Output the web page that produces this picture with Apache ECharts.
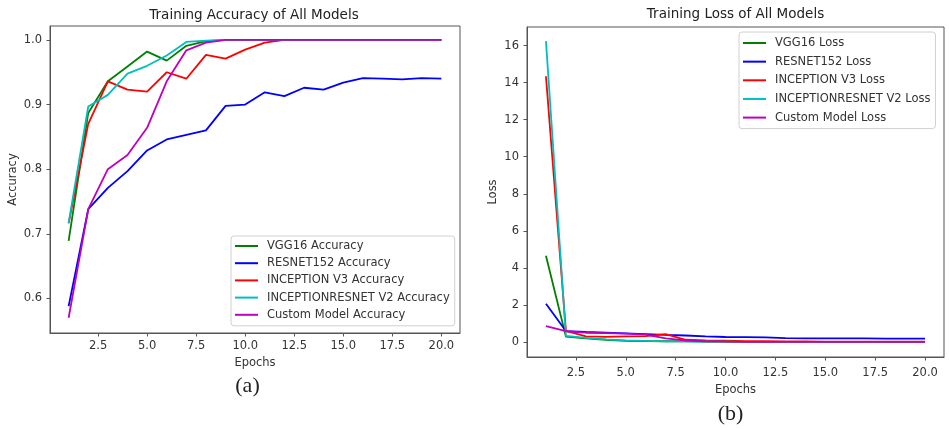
<!DOCTYPE html>
<html>
<head>
<meta charset="utf-8">
<script src="https://cdn.jsdelivr.net/npm/echarts@6/dist/echarts.min.js"></script>
<style>
	html, body {margin: 0; padding: 0; background: #fff;}
	#container {width: 949px; height: 430px;}
</style>
</head>
<body>
<div id="container"></div>
<script>
const Epochs = [1, 2, 3, 4, 5, 6, 7, 8, 9, 10, 11, 12, 13, 14, 15, 16, 17, 18, 19, 20];
const XTicks = [2.5, 5, 7.5, 10, 12.5, 15, 17.5, 20];
const AccTicks = [0.6, 0.7, 0.8, 0.9, 1.0];
const LossTicks = [0, 2, 4, 6, 8, 10, 12, 14, 16];

const AccNames = ['VGG16 Accuracy', 'RESNET152 Accuracy', 'INCEPTION V3 Accuracy', 'INCEPTIONRESNET V2 Accuracy', 'Custom Model Accuracy'];
const LossNames = ['VGG16 Loss', 'RESNET152 Loss', 'INCEPTION V3 Loss', 'INCEPTIONRESNET V2 Loss', 'Custom Model Loss'];
const Colors = ['#008000', '#0000ff', '#ff0000', '#00bfbf', '#bf00bf'];

// accuracy per epoch
const VggAcc = [0.689, 0.887, 0.936, 0.959, 0.982, 0.968, 0.991, 0.998, 1.0, 1.0, 1.0, 1.0, 1.0, 1.0, 1.0, 1.0, 1.0, 1.0, 1.0, 1.0];
const ResnetAcc = [0.588, 0.738, 0.771, 0.797, 0.829, 0.846, 0.853, 0.860, 0.898, 0.900, 0.919, 0.913, 0.926, 0.923, 0.934, 0.941, 0.940, 0.939, 0.941, 0.940];
const InceptionAcc = [0.716, 0.870, 0.936, 0.923, 0.920, 0.950, 0.940, 0.977, 0.971, 0.985, 0.996, 1.0, 1.0, 1.0, 1.0, 1.0, 1.0, 1.0, 1.0, 1.0];
const IrnAcc = [0.717, 0.897, 0.915, 0.948, 0.960, 0.976, 0.997, 0.999, 1.0, 1.0, 1.0, 1.0, 1.0, 1.0, 1.0, 1.0, 1.0, 1.0, 1.0, 1.0];
const CustomAcc = [0.570, 0.738, 0.800, 0.822, 0.864, 0.936, 0.984, 0.996, 1.0, 1.0, 1.0, 1.0, 1.0, 1.0, 1.0, 1.0, 1.0, 1.0, 1.0, 1.0];

// loss per epoch
const VggLoss = [4.65, 0.29, 0.19, 0.12, 0.06, 0.05, 0.04, 0.03, 0.02, 0.02, 0.01, 0.01, 0.01, 0.01, 0.01, 0.01, 0.01, 0.01, 0.01, 0.01];
const ResnetLoss = [2.06, 0.59, 0.54, 0.50, 0.46, 0.42, 0.38, 0.35, 0.30, 0.27, 0.26, 0.25, 0.21, 0.20, 0.19, 0.19, 0.19, 0.18, 0.18, 0.18];
const InceptionLoss = [14.34, 0.60, 0.30, 0.28, 0.30, 0.32, 0.42, 0.12, 0.09, 0.07, 0.05, 0.04, 0.03, 0.03, 0.02, 0.02, 0.02, 0.02, 0.02, 0.02];
const IrnLoss = [16.24, 0.33, 0.22, 0.14, 0.09, 0.06, 0.04, 0.03, 0.02, 0.02, 0.01, 0.01, 0.01, 0.01, 0.01, 0.01, 0.01, 0.01, 0.01, 0.01];
const CustomLoss = [0.86, 0.58, 0.50, 0.48, 0.45, 0.40, 0.20, 0.08, 0.04, 0.02, 0.01, 0.01, 0.01, 0.01, 0.01, 0.01, 0.01, 0.01, 0.01, 0.01];

const Font = 'DejaVu Sans';
const TextColor = '#333';
const FrameColor = '#555';

function Pairs(values) {
	return Epochs.map((e, i) => [e, values[i]]);
}

function Axis(gridIndex, min, max, ticks, fmt, margin, name, nameGap) {
	return {
		type: 'value', gridIndex: gridIndex, min: min, max: max,
		name: name, nameLocation: 'middle', nameGap: nameGap,
		nameTextStyle: {fontFamily: Font, fontSize: 11.5, color: TextColor},
		splitLine: {show: false},
		axisLine: {show: true, onZero: false, lineStyle: {color: FrameColor, width: 1}},
		axisTick: {show: true, length: 3.5, customValues: ticks, lineStyle: {color: FrameColor, width: 1}},
		axisLabel: {
			customValues: ticks, margin: margin, fontFamily: Font, fontSize: 11.5, color: TextColor,
			formatter: fmt
		}
	};
}

function Series(names, list, xi, yi) {
	return names.map((n, i) => ({
		name: n, type: 'line', xAxisIndex: xi, yAxisIndex: yi,
		data: Pairs(list[i]), showSymbol: false, symbol: 'none',
		lineStyle: {width: 1.8, color: Colors[i]}, itemStyle: {color: Colors[i]},
		z: 2 + i
	}));
}

function Legend(names, left, top, gap, padding) {
	return {
		data: names, orient: 'vertical', left: left, top: top,
		icon: 'rect', itemWidth: 23, itemHeight: 2, itemGap: gap,
		padding: padding, backgroundColor: 'rgba(255,255,255,0.85)',
		borderColor: '#d0d0d0', borderWidth: 1, borderRadius: 3,
		selectedMode: false,
		textStyle: {fontFamily: Font, fontSize: 11.5, color: TextColor, lineHeight: 14, padding: [0, 0, 0, 4]}
	};
}

function Label(text, x, y, size, family) {
	return {
		type: 'text', x: x, y: y, silent: true,
		style: {
			text: text, fill: '#222', fontSize: size, fontFamily: family,
			align: 'center', verticalAlign: 'middle', textAlign: 'center', textVerticalAlign: 'middle'
		}
	};
}

const oneDec = v => v.toFixed(1);
const noDec = v => String(Math.round(v));

const option = {
	animation: false,
	backgroundColor: '#fff',
	grid: [
		{left: 50, top: 26, width: 410, height: 307, show: true, borderColor: FrameColor, borderWidth: 1, containLabel: false},
		{left: 527, top: 27, width: 417, height: 330, show: true, borderColor: FrameColor, borderWidth: 1, containLabel: false}
	],
	xAxis: [
		Axis(0, 0.05, 20.95, XTicks, oneDec, 7, 'Epochs', 23),
		Axis(1, 0.05, 20.95, XTicks, oneDec, 10, 'Epochs', 26)
	],
	yAxis: [
		Axis(0, 0.5464, 1.0216, AccTicks, oneDec, 8, 'Accuracy', 31),
		Axis(1, -0.81, 17.0, LossTicks, noDec, 8, 'Loss', 28)
	],
	legend: [
		Legend(AccNames, 231, 236, 3.2, [3, 5, 4, 4]),
		Legend(LossNames, 739, 32, 4.65, [4, 5, 4, 4])
	],
	series: [].concat(
		Series(AccNames, [VggAcc, ResnetAcc, InceptionAcc, IrnAcc, CustomAcc], 0, 0),
		Series(LossNames, [VggLoss, ResnetLoss, InceptionLoss, IrnLoss, CustomLoss], 1, 1)
	),
	graphic: [
		Label('Training Accuracy of All Models', 254, 15, 13.5, Font),
		Label('Training Loss of All Models', 735.5, 14, 13.5, Font),
		Label('(a)', 247.5, 386, 22, 'Liberation Serif'),
		Label('(b)', 730.5, 414, 22, 'Liberation Serif')
	]
};

echarts.init(document.getElementById('container')).setOption(option);
</script>
</body>
</html>
